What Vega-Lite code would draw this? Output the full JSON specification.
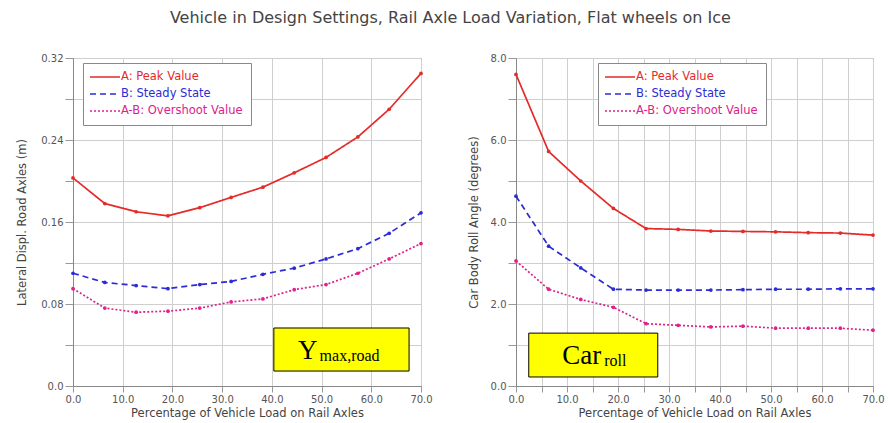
{
  "$schema": "https://vega.github.io/schema/vega-lite/v6.json",
  "background": "white",
  "padding": {"left": 16, "top": 9, "right": 8, "bottom": 3},
  "title": {"text": "Vehicle in Design Settings, Rail Axle Load Variation, Flat wheels on Ice", "anchor": "middle", "font": "DejaVu Sans", "fontSize": 16, "fontWeight": "normal", "color": "#444", "offset": 27},
  "datasets": {
    "left": [
      {"x": 0, "value": 0.203, "series": "A: Peak Value"},
      {"x": 6.4, "value": 0.178, "series": "A: Peak Value"},
      {"x": 12.7, "value": 0.170, "series": "A: Peak Value"},
      {"x": 19.1, "value": 0.166, "series": "A: Peak Value"},
      {"x": 25.5, "value": 0.174, "series": "A: Peak Value"},
      {"x": 31.8, "value": 0.184, "series": "A: Peak Value"},
      {"x": 38.2, "value": 0.194, "series": "A: Peak Value"},
      {"x": 44.5, "value": 0.208, "series": "A: Peak Value"},
      {"x": 50.9, "value": 0.223, "series": "A: Peak Value"},
      {"x": 57.3, "value": 0.243, "series": "A: Peak Value"},
      {"x": 63.6, "value": 0.270, "series": "A: Peak Value"},
      {"x": 70, "value": 0.305, "series": "A: Peak Value"},
      {"x": 0, "value": 0.110, "series": "B: Steady State"},
      {"x": 6.4, "value": 0.101, "series": "B: Steady State"},
      {"x": 12.7, "value": 0.098, "series": "B: Steady State"},
      {"x": 19.1, "value": 0.095, "series": "B: Steady State"},
      {"x": 25.5, "value": 0.099, "series": "B: Steady State"},
      {"x": 31.8, "value": 0.102, "series": "B: Steady State"},
      {"x": 38.2, "value": 0.109, "series": "B: Steady State"},
      {"x": 44.5, "value": 0.115, "series": "B: Steady State"},
      {"x": 50.9, "value": 0.124, "series": "B: Steady State"},
      {"x": 57.3, "value": 0.134, "series": "B: Steady State"},
      {"x": 63.6, "value": 0.149, "series": "B: Steady State"},
      {"x": 70, "value": 0.169, "series": "B: Steady State"},
      {"x": 0, "value": 0.095, "series": "A-B: Overshoot Value"},
      {"x": 6.4, "value": 0.076, "series": "A-B: Overshoot Value"},
      {"x": 12.7, "value": 0.072, "series": "A-B: Overshoot Value"},
      {"x": 19.1, "value": 0.073, "series": "A-B: Overshoot Value"},
      {"x": 25.5, "value": 0.076, "series": "A-B: Overshoot Value"},
      {"x": 31.8, "value": 0.082, "series": "A-B: Overshoot Value"},
      {"x": 38.2, "value": 0.085, "series": "A-B: Overshoot Value"},
      {"x": 44.5, "value": 0.094, "series": "A-B: Overshoot Value"},
      {"x": 50.9, "value": 0.099, "series": "A-B: Overshoot Value"},
      {"x": 57.3, "value": 0.110, "series": "A-B: Overshoot Value"},
      {"x": 63.6, "value": 0.124, "series": "A-B: Overshoot Value"},
      {"x": 70, "value": 0.139, "series": "A-B: Overshoot Value"}
    ],
    "right": [
      {"x": 0, "value": 7.60, "series": "A: Peak Value"},
      {"x": 6.4, "value": 5.72, "series": "A: Peak Value"},
      {"x": 12.7, "value": 5.00, "series": "A: Peak Value"},
      {"x": 19.1, "value": 4.33, "series": "A: Peak Value"},
      {"x": 25.5, "value": 3.84, "series": "A: Peak Value"},
      {"x": 31.8, "value": 3.82, "series": "A: Peak Value"},
      {"x": 38.2, "value": 3.78, "series": "A: Peak Value"},
      {"x": 44.5, "value": 3.77, "series": "A: Peak Value"},
      {"x": 50.9, "value": 3.76, "series": "A: Peak Value"},
      {"x": 57.3, "value": 3.74, "series": "A: Peak Value"},
      {"x": 63.6, "value": 3.73, "series": "A: Peak Value"},
      {"x": 70, "value": 3.68, "series": "A: Peak Value"},
      {"x": 0, "value": 4.63, "series": "B: Steady State"},
      {"x": 6.4, "value": 3.41, "series": "B: Steady State"},
      {"x": 12.7, "value": 2.88, "series": "B: Steady State"},
      {"x": 19.1, "value": 2.36, "series": "B: Steady State"},
      {"x": 25.5, "value": 2.34, "series": "B: Steady State"},
      {"x": 31.8, "value": 2.34, "series": "B: Steady State"},
      {"x": 38.2, "value": 2.34, "series": "B: Steady State"},
      {"x": 44.5, "value": 2.35, "series": "B: Steady State"},
      {"x": 50.9, "value": 2.36, "series": "B: Steady State"},
      {"x": 57.3, "value": 2.36, "series": "B: Steady State"},
      {"x": 63.6, "value": 2.37, "series": "B: Steady State"},
      {"x": 70, "value": 2.37, "series": "B: Steady State"},
      {"x": 0, "value": 3.05, "series": "A-B: Overshoot Value"},
      {"x": 6.4, "value": 2.36, "series": "A-B: Overshoot Value"},
      {"x": 12.7, "value": 2.11, "series": "A-B: Overshoot Value"},
      {"x": 19.1, "value": 1.92, "series": "A-B: Overshoot Value"},
      {"x": 25.5, "value": 1.52, "series": "A-B: Overshoot Value"},
      {"x": 31.8, "value": 1.48, "series": "A-B: Overshoot Value"},
      {"x": 38.2, "value": 1.44, "series": "A-B: Overshoot Value"},
      {"x": 44.5, "value": 1.46, "series": "A-B: Overshoot Value"},
      {"x": 50.9, "value": 1.41, "series": "A-B: Overshoot Value"},
      {"x": 57.3, "value": 1.41, "series": "A-B: Overshoot Value"},
      {"x": 63.6, "value": 1.41, "series": "A-B: Overshoot Value"},
      {"x": 70, "value": 1.36, "series": "A-B: Overshoot Value"}
    ],
    "boxLeft": [{"x": 40.4, "x2": 67.6, "value": 0.0146, "value2": 0.0566}],
    "mainLeft": [{"x": 49.2, "value": 0.0263, "label": "Y"}],
    "subLeft": [{"x": 49.2, "value": 0.0263, "label": "max,road"}],
    "boxRight": [{"x": 2.5, "x2": 27.8, "value": 0.22, "value2": 1.29}],
    "mainRight": [{"x": 16.7, "value": 0.54, "label": "Car"}],
    "subRight": [{"x": 16.7, "value": 0.54, "label": "roll"}]
  },
  "hconcat": [
    {
      "width": 348,
      "height": 328,
      "encoding": {
        "x": {"field": "x", "type": "quantitative", "scale": {"domain": [0, 70], "nice": false},
          "axis": {"title": "Percentage of Vehicle Load on Rail Axles", "values": [0, 10, 20, 30, 40, 50, 60, 70], "format": ".1f", "grid": true, "gridColor": "#cfcfcf", "gridOpacity": 1}},
        "y": {"field": "value", "type": "quantitative", "scale": {"domain": [0, 0.32], "nice": false},
          "axis": {"title": "Lateral Displ. Road Axles (m)", "values": [0, 0.04, 0.08, 0.12, 0.16, 0.2, 0.24, 0.28, 0.32], "grid": true, "gridColor": "#cfcfcf", "gridOpacity": 1,
            "labelExpr": "datum.value == 0 ? '0.0' : (round(datum.value * 100) % 8 == 0 ? format(datum.value, '.2f') : '')"}}
      },
      "layer": [
        {
          "data": {"name": "left"},
          "mark": {"type": "line", "strokeWidth": 1.7, "point": {"filled": true, "size": 14}},
          "encoding": {
            "color": {"field": "series", "type": "nominal",
              "scale": {"domain": ["A: Peak Value", "B: Steady State", "A-B: Overshoot Value"], "range": ["#e52a2a", "#2c2cd6", "#e0208c"]},
              "legend": {"title": null, "orient": "none", "legendX": 10, "legendY": 5,
                "encode": {"labels": {"update": {"fill": {"signal": "datum.value == 'A: Peak Value' ? '#e52a2a' : datum.value == 'B: Steady State' ? '#2c2cd6' : '#e0208c'"}}}}}},
            "strokeDash": {"field": "series", "type": "nominal",
              "scale": {"domain": ["A: Peak Value", "B: Steady State", "A-B: Overshoot Value"], "range": [[1, 0], [6, 4], [2, 2]]},
              "legend": {"title": null, "orient": "none", "legendX": 10, "legendY": 5}}
          }
        },
        {
          "data": {"name": "boxLeft"},
          "mark": {"type": "rect", "fill": "#ffff00", "stroke": "#000000", "strokeWidth": 1},
          "encoding": {"x2": {"field": "x2"}, "y2": {"field": "value2"}}
        },
        {
          "data": {"name": "mainLeft"},
          "mark": {"type": "text", "font": "Liberation Serif", "fontSize": 27, "align": "right", "baseline": "alphabetic", "color": "#000000"},
          "encoding": {"text": {"field": "label"}}
        },
        {
          "data": {"name": "subLeft"},
          "mark": {"type": "text", "font": "Liberation Serif", "fontSize": 16, "align": "left", "baseline": "alphabetic", "dx": 2, "dy": 2, "color": "#000000"},
          "encoding": {"text": {"field": "label"}}
        }
      ]
    },
    {
      "width": 357,
      "height": 328,
      "encoding": {
        "x": {"field": "x", "type": "quantitative", "scale": {"domain": [0, 70], "nice": false},
          "axis": {"title": "Percentage of Vehicle Load on Rail Axles", "values": [0, 5, 10, 15, 20, 25, 30, 35, 40, 45, 50, 55, 60, 65, 70], "grid": true, "gridColor": "#cfcfcf", "gridOpacity": 1,
            "labelExpr": "datum.value % 10 == 0 ? format(datum.value, '.1f') : ''"}},
        "y": {"field": "value", "type": "quantitative", "scale": {"domain": [0, 8], "nice": false},
          "axis": {"title": "Car Body Roll Angle (degrees)", "values": [0, 1, 2, 3, 4, 5, 6, 7, 8], "grid": true, "gridColor": "#cfcfcf", "gridOpacity": 1,
            "labelExpr": "datum.value % 2 == 0 ? format(datum.value, '.1f') : ''", "titlePadding": 11}}
      },
      "layer": [
        {
          "data": {"name": "right"},
          "mark": {"type": "line", "strokeWidth": 1.7, "point": {"filled": true, "size": 14}},
          "encoding": {
            "color": {"field": "series", "type": "nominal",
              "scale": {"domain": ["A: Peak Value", "B: Steady State", "A-B: Overshoot Value"], "range": ["#e52a2a", "#2c2cd6", "#e0208c"]},
              "legend": {"title": null, "orient": "none", "legendX": 82, "legendY": 5,
                "encode": {"labels": {"update": {"fill": {"signal": "datum.value == 'A: Peak Value' ? '#e52a2a' : datum.value == 'B: Steady State' ? '#2c2cd6' : '#e0208c'"}}}}}},
            "strokeDash": {"field": "series", "type": "nominal",
              "scale": {"domain": ["A: Peak Value", "B: Steady State", "A-B: Overshoot Value"], "range": [[1, 0], [6, 4], [2, 2]]},
              "legend": {"title": null, "orient": "none", "legendX": 82, "legendY": 5}}
          }
        },
        {
          "data": {"name": "boxRight"},
          "mark": {"type": "rect", "fill": "#ffff00", "stroke": "#000000", "strokeWidth": 1},
          "encoding": {"x2": {"field": "x2"}, "y2": {"field": "value2"}}
        },
        {
          "data": {"name": "mainRight"},
          "mark": {"type": "text", "font": "Liberation Serif", "fontSize": 27, "align": "right", "baseline": "alphabetic", "color": "#000000"},
          "encoding": {"text": {"field": "label"}}
        },
        {
          "data": {"name": "subRight"},
          "mark": {"type": "text", "font": "Liberation Serif", "fontSize": 16, "align": "left", "baseline": "alphabetic", "dx": 3, "dy": 2, "color": "#000000"},
          "encoding": {"text": {"field": "label"}}
        }
      ]
    }
  ],
  "spacing": 95,
  "bounds": "flush",
  "resolve": {"legend": {"color": "independent", "strokeDash": "independent"}},
  "config": {
    "font": "DejaVu Sans",
    "view": {"stroke": "#888888", "strokeWidth": 1},
    "axis": {
      "grid": true,
      "labelFont": "DejaVu Sans", "titleFont": "DejaVu Sans",
      "labelFontSize": 10, "labelColor": "#555555", "titleFontSize": 11.5, "titleFontWeight": "normal", "titleColor": "#444444",
      "domainColor": "#888888", "tickColor": "#999999",
      "labelPadding": 2, "tickSize": 6
    },
    "axisY": {"tickSize": 8, "titlePadding": 13},
    "axisX": {"titlePadding": 3, "labelFlush": false},
    "legend": {
      "labelFontSize": 11.5, "labelFont": "DejaVu Sans", "symbolType": "M-3,0H3", "symbolSize": 100, "symbolStrokeWidth": 1.6,
      "symbolOffset": 8, "labelOffset": 10,
      "strokeColor": "#888888", "fillColor": "white", "padding": 8, "rowPadding": 5, "cornerRadius": 0
    }
  }
}
